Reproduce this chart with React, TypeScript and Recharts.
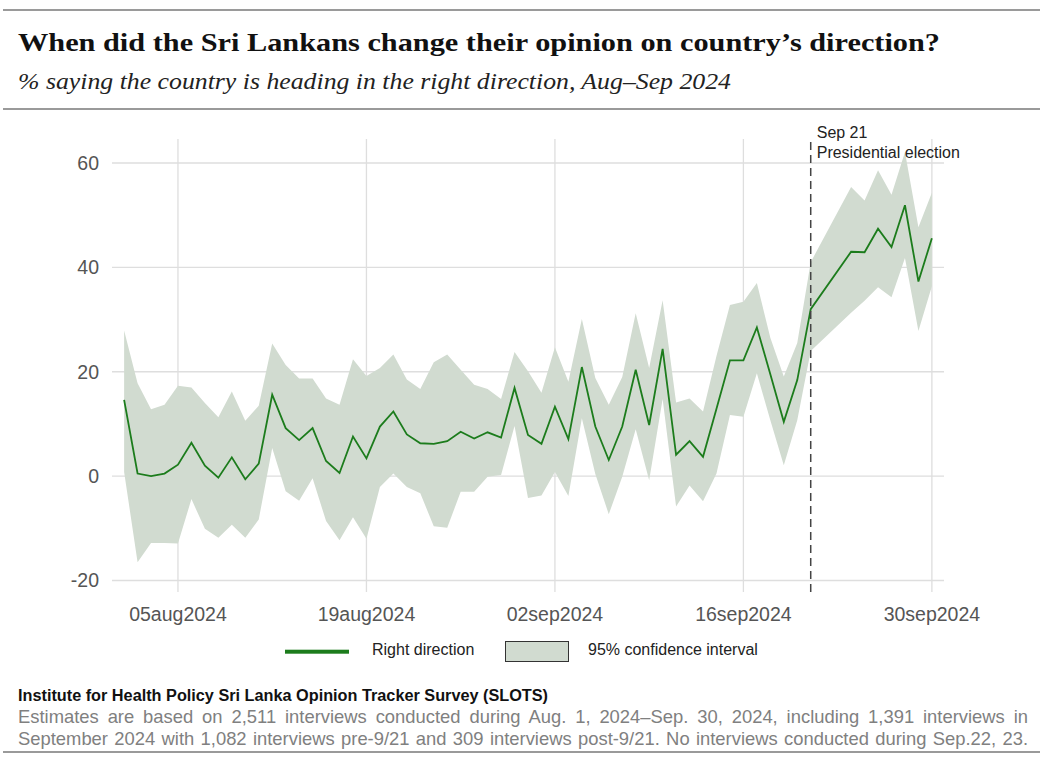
import React from 'react';
import { ComposedChart, Area, Line, XAxis, YAxis, CartesianGrid, ReferenceLine } from 'recharts';

// survey days (no interviews on Sep 22 and 23)
const dates = [
  '2024-08-01', '2024-08-02', '2024-08-03', '2024-08-04', '2024-08-05', '2024-08-06', '2024-08-07',
  '2024-08-08', '2024-08-09', '2024-08-10', '2024-08-11', '2024-08-12', '2024-08-13', '2024-08-14',
  '2024-08-15', '2024-08-16', '2024-08-17', '2024-08-18', '2024-08-19', '2024-08-20', '2024-08-21',
  '2024-08-22', '2024-08-23', '2024-08-24', '2024-08-25', '2024-08-26', '2024-08-27', '2024-08-28',
  '2024-08-29', '2024-08-30', '2024-08-31', '2024-09-01', '2024-09-02', '2024-09-03', '2024-09-04',
  '2024-09-05', '2024-09-06', '2024-09-07', '2024-09-08', '2024-09-09', '2024-09-10', '2024-09-11',
  '2024-09-12', '2024-09-13', '2024-09-14', '2024-09-15', '2024-09-16', '2024-09-17', '2024-09-18',
  '2024-09-19', '2024-09-20', '2024-09-21', '2024-09-24', '2024-09-25', '2024-09-26', '2024-09-27',
  '2024-09-28', '2024-09-29', '2024-09-30',
];

// % saying right direction
const rightDirection = [
  14.6, 0.5, 0.0, 0.5, 2.2, 6.4, 2.0, -0.3, 3.6, -0.6, 2.4, 15.6, 9.2, 6.9,
  9.2, 2.9, 0.6, 7.6, 3.4, 9.5, 12.4, 8.0, 6.3, 6.2, 6.7, 8.5, 7.2, 8.4,
  7.4, 16.9, 7.9, 6.2, 13.3, 7.1, 20.9, 9.5, 3.1, 9.5, 20.4, 9.8, 24.4, 4.1,
  6.7, 3.7, 12.9, 22.2, 22.2, 28.5, 19.5, 10.4, 18.4, 32.0, 43.0, 42.9, 47.4, 43.9,
  51.9, 37.3, 45.6,
];

// 95% confidence interval
const ciLower = [
  0.8, -16.5, -12.8, -12.8, -12.9, -4.4, -10.1, -11.8, -9.3, -11.8, -8.3, 5.4, -2.9, -4.7,
  -0.4, -8.6, -12.3, -7.9, -12.0, -2.1, 0.5, -2.1, -3.3, -9.6, -9.9, -3.0, -3.0, -0.1,
  0.2, 9.6, -4.2, -3.7, 0.8, -3.8, 11.1, 0.4, -7.3, -0.1, 9.0, -0.8, 14.8, -5.8,
  -1.8, -4.8, 0.5, 11.7, 11.4, 19.7, 10.7, 2.1, 10.7, 24.0, 31.3, 33.6, 36.2, 34.3,
  41.8, 27.8, 36.4,
];
const ciUpper = [
  27.9, 17.8, 12.8, 13.7, 17.3, 17.0, 14.0, 11.3, 16.2, 10.6, 13.5, 25.4, 21.3, 18.7,
  18.7, 14.9, 13.7, 22.4, 19.2, 20.7, 23.3, 18.5, 16.7, 21.8, 23.3, 20.4, 17.5, 16.7,
  14.8, 23.8, 20.1, 16.0, 24.7, 18.1, 30.1, 18.8, 13.7, 19.0, 31.2, 20.7, 33.7, 14.1,
  14.9, 12.4, 23.0, 32.8, 33.4, 37.0, 26.5, 19.1, 25.5, 41.0, 55.4, 52.8, 58.6, 53.9,
  62.1, 47.7, 54.3,
];

const tickDates = ['2024-08-05', '2024-08-19', '2024-09-02', '2024-09-16', '2024-09-30'];
const tickLabels = ['05aug2024', '19aug2024', '02sep2024', '16sep2024', '30sep2024'];
const yTicks = [-20, 0, 20, 40, 60];
const electionDate = '2024-09-21';

const DAY = 24 * 3600 * 1000;
const start = Date.parse('2024-08-01');
const dayOf = (d: string) => Math.round((Date.parse(d) - start) / DAY);

const data = dates.map((d, i) => ({
  day: dayOf(d),
  value: rightDirection[i],
  ci: [ciLower[i], ciUpper[i]],
}));

const xTicks = tickDates.map(dayOf);

const GREEN = '#1c7c1c';
const BAND = '#d1dbd0';
const sans = '"Liberation Sans", Arial, Helvetica, sans-serif';
const serif = '"Liberation Serif", "Times New Roman", serif';

const ElectionLabel = (props: any) => {
  const { viewBox } = props;
  const x = viewBox.x + 6;
  const y = viewBox.y;
  return (
    <g fontFamily={sans} fontSize={16} fill="#222">
      <text x={x} y={y - 1}>Sep 21</text>
      <text x={x} y={y + 18.5}>Presidential election</text>
    </g>
  );
};

export default function App() {
  return (
    <div style={{ position: 'absolute', left: 0, top: 0, width: 1047, height: 760, background: '#fff', overflow: 'hidden' }}>
      <div style={{ position: 'absolute', left: 0, top: 0 }}>
        <ComposedChart width={1047} height={640} data={data} margin={{ top: 139, right: 103, bottom: 8, left: 0 }}>
          {/* grid only at the tick values, no frame round the plot */}
          <CartesianGrid stroke="#dedede" strokeWidth={1.3} syncWithTicks />
          <XAxis
            dataKey="day"
            type="number"
            domain={[-0.9, 60.9]}
            allowDataOverflow
            ticks={xTicks}
            tickFormatter={(v: number) => tickLabels[xTicks.indexOf(v)]}
            axisLine={false}
            tickLine={false}
            tickSize={6}
            tickMargin={9}
            height={40}
            tick={{ fontSize: 19.5, fill: '#555', fontFamily: sans }}
          />
          <YAxis
            type="number"
            domain={[-22.2, 64.6]}
            allowDataOverflow
            ticks={yTicks}
            axisLine={false}
            tickLine={false}
            tickSize={6}
            tickMargin={7}
            width={112}
            tick={{ fontSize: 19.5, fill: '#555', fontFamily: sans }}
          />
          <Area
            dataKey="ci"
            type="linear"
            stroke="none"
            fill={BAND}
            fillOpacity={1}
            isAnimationActive={false}
            activeDot={false}
          />
          <Line
            dataKey="value"
            type="linear"
            stroke={GREEN}
            strokeWidth={1.8}
            dot={false}
            activeDot={false}
            isAnimationActive={false}
          />
          <ReferenceLine
            x={dayOf(electionDate)}
            stroke="#444"
            strokeWidth={1.5}
            strokeDasharray="8 5"
            label={<ElectionLabel />}
          />
        </ComposedChart>
      </div>

      <svg width={1047} height={760} style={{ position: 'absolute', left: 0, top: 0, pointerEvents: 'none' }}>
        <rect x={3} y={9} width={1037} height={2} fill="#9a9a9a" />
        <text x={18} y={51} fontFamily={serif} fontWeight="bold" fontSize={26} fill="#111" textLength={922} lengthAdjust="spacingAndGlyphs">
          When did the Sri Lankans change their opinion on country’s direction?
        </text>
        <text x={18} y={89} fontFamily={serif} fontStyle="italic" fontSize={23} fill="#222" textLength={713} lengthAdjust="spacingAndGlyphs">
          % saying the country is heading in the right direction, Aug–Sep 2024
        </text>
        <rect x={3} y={108} width={1037} height={2} fill="#9a9a9a" />

        {/* legend */}
        <rect x={285} y={649.7} width={64} height={4} fill={GREEN} />
        <text x={372} y={655} fontFamily={sans} fontSize={16} fill="#222">Right direction</text>
        <rect x={505.5} y={641.5} width={63} height={20} fill={BAND} stroke="#333" strokeWidth={1} />
        <text x={588} y={655} fontFamily={sans} fontSize={16} fill="#222">95% confidence interval</text>

        {/* source */}
        <text x={18} y={701} fontFamily={sans} fontWeight="bold" fontSize={16} fill="#111" textLength={530} lengthAdjust="spacingAndGlyphs">
          Institute for Health Policy Sri Lanka Opinion Tracker Survey (SLOTS)
        </text>
        <rect x={3} y={751} width={1037} height={2} fill="#9a9a9a" />
      </svg>

      <div style={{ position: 'absolute', left: 18, top: 706, width: 1010, fontFamily: sans, fontSize: 18.4, lineHeight: '22px', color: '#808080' }}>
        <div style={{ textAlign: 'justify', textAlignLast: 'justify', whiteSpace: 'nowrap' as any }}>
          Estimates are based on 2,511 interviews conducted during Aug. 1, 2024–Sep. 30, 2024, including 1,391 interviews in
        </div>
        <div style={{ textAlign: 'justify', textAlignLast: 'justify', whiteSpace: 'nowrap' as any }}>
          September 2024 with 1,082 interviews pre-9/21 and 309 interviews post-9/21. No interviews conducted during Sep.22, 23.
        </div>
      </div>
    </div>
  );
}
